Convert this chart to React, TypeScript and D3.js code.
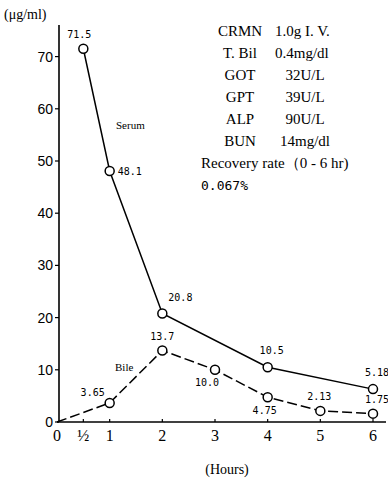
import React from "react";
import * as d3 from "d3";

const W = 388;
const H = 478;

const yTicks = [0, 10, 20, 30, 40, 50, 60, 70];
const xTickValues = [0, 0.5, 1, 2, 3, 4, 5, 6];
const xTickLabels = ["0", "½", "1", "2", "3", "4", "5", "6"];

const serumHours = [0.5, 1, 2, 4, 6];
const serumValues = [71.5, 48.1, 20.8, 10.5, 6.3];
const serumLabels = ["71.5", "48.1", "20.8", "10.5", "5.18"];

const bileHours = [0, 1, 2, 3, 4, 5, 6];
const bileValues = [0, 3.65, 13.7, 10.0, 4.75, 2.13, 1.6];
const bileLabels = ["", "3.65", "13.7", "10.0", "4.75", "2.13", "1.75"];

const infoLeft = ["CRMN", "T. Bil", "GOT", "GPT", "ALP", "BUN"];
const infoRight = ["1.0g  I. V.", "0.4mg/dl", "32U/L", "39U/L", "90U/L", "14mg/dl"];

// label offsets [dx, dy] relative to point, anchor
const serumLabelPos: [number, number, string][] = [
  [-4, -11, "middle"],
  [8, 4, "start"],
  [6, -12, "start"],
  [4, -13, "middle"],
  [4, -13, "middle"],
];
const bileLabelPos: [number, number, string][] = [
  [0, 0, "middle"],
  [-17, -7, "middle"],
  [0, -10, "middle"],
  [-8, 16, "middle"],
  [-3, 17, "middle"],
  [-1, -11, "middle"],
  [4, -11, "middle"],
];

export default function App() {
  const x = d3.scaleLinear().domain([0, 6]).range([57, 373]);
  const y = d3.scaleLinear().domain([0, 70]).range([422, 56.6]);

  const line = d3
    .line<[number, number]>()
    .x((d) => x(d[0]))
    .y((d) => y(d[1]));

  const serum: [number, number][] = serumHours.map((h, i) => [h, serumValues[i]]);
  const bile: [number, number][] = bileHours.map((h, i) => [h, bileValues[i]]);

  const serif = "'Liberation Serif', 'DejaVu Serif', serif";
  const sans = "'Liberation Sans', Arial, sans-serif";
  const mono = "'DejaVu Sans Mono', 'Liberation Mono', monospace";

  return (
    <svg
      width={W}
      height={H}
      style={{ position: "absolute", left: 0, top: 0, background: "#fff" }}
    >
      <rect width={W} height={H} fill="#fff" />
      {/* unit label */}
      <text x={4} y={19} fontFamily={serif} fontSize={14} fill="#000">
        (μg/ml)
      </text>

      {/* y axis */}
      <line x1={59} x2={59} y1={25} y2={422} stroke="#000" strokeWidth={1.6} />
      {yTicks.map((t) => (
        <g key={t}>
          <line x1={55} x2={59} y1={y(t)} y2={y(t)} stroke="#000" strokeWidth={1.2} />
          <text
            x={53}
            y={y(t) + 5}
            textAnchor="end"
            fontFamily={sans}
            fontSize={14}
            fill="#000"
          >
            {t}
          </text>
        </g>
      ))}

      {/* x axis */}
      <line x1={57} x2={386} y1={422} y2={422} stroke="#000" strokeWidth={1.6} />
      {xTickValues.map((t, i) => (
        <g key={i}>
          {t > 0 && (
            <line x1={x(t)} x2={x(t)} y1={419} y2={422} stroke="#000" strokeWidth={1.2} />
          )}
          <text
            x={x(t)}
            y={441}
            textAnchor="middle"
            fontFamily={serif}
            fontSize={16}
            fill="#000"
          >
            {xTickLabels[i]}
          </text>
        </g>
      ))}
      <text x={227} y={474} textAnchor="middle" fontFamily={serif} fontSize={14} fill="#000">
        (Hours)
      </text>

      {/* lines */}
      <path d={line(serum) || ""} fill="none" stroke="#000" strokeWidth={1.5} />
      <path
        d={line(bile) || ""}
        fill="none"
        stroke="#000"
        strokeWidth={1.5}
        strokeDasharray="10,4"
      />

      {/* markers */}
      {serum.map((d, i) => (
        <circle key={"s" + i} cx={x(d[0])} cy={y(d[1])} r={4.5} fill="#fff" stroke="#000" strokeWidth={1.5} />
      ))}
      {bile.slice(1).map((d, i) => (
        <circle key={"b" + i} cx={x(d[0])} cy={y(d[1])} r={4.5} fill="#fff" stroke="#000" strokeWidth={1.5} />
      ))}

      {/* data labels */}
      {serum.map((d, i) => (
        <text
          key={"sl" + i}
          x={x(d[0]) + serumLabelPos[i][0]}
          y={y(d[1]) + serumLabelPos[i][1]}
          textAnchor={serumLabelPos[i][2] as any}
          fontFamily={mono}
          fontSize={10}
          fill="#000"
        >
          {serumLabels[i]}
        </text>
      ))}
      {bile.map((d, i) =>
        bileLabels[i] ? (
          <text
            key={"bl" + i}
            x={x(d[0]) + bileLabelPos[i][0]}
            y={y(d[1]) + bileLabelPos[i][1]}
            textAnchor={bileLabelPos[i][2] as any}
            fontFamily={mono}
            fontSize={10}
            fill="#000"
          >
            {bileLabels[i]}
          </text>
        ) : null
      )}

      {/* series names */}
      <text x={116} y={129} fontFamily={serif} fontSize={11} fill="#000">
        Serum
      </text>
      <text x={115} y={371} fontFamily={serif} fontSize={11} fill="#000">
        Bile
      </text>

      {/* info block */}
      {infoLeft.map((s, i) => (
        <g key={"inf" + i}>
          <text x={240} y={36 + i * 22} textAnchor="middle" fontFamily={serif} fontSize={15} fill="#000">
            {s}
          </text>
          <text
            x={i < 2 ? 275 : 305}
            y={36 + i * 22}
            textAnchor={i < 2 ? "start" : "middle"}
            fontFamily={serif}
            fontSize={15}
            fill="#000"
          >
            {infoRight[i]}
          </text>
        </g>
      ))}
      <text x={201} y={168} fontFamily={serif} fontSize={15} fill="#000">
        Recovery rate（0 - 6 hr)
      </text>
      <text x={201} y={190} fontFamily={mono} fontSize={13} fill="#000">
        0.067%
      </text>
    </svg>
  );
}
